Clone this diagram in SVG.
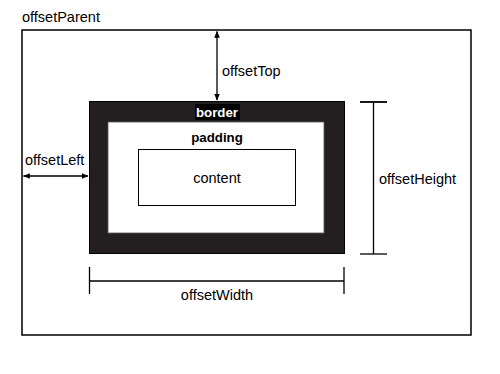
<svg xmlns="http://www.w3.org/2000/svg" width="500" height="374" viewBox="0 0 500 374">
<defs>
<style>
text{font-family:"Liberation Sans",Arial,sans-serif;font-size:14.5px;fill:#000}
.b{font-weight:bold;font-size:13.3px}
.ln{stroke:#000;stroke-width:1.3;fill:none}
</style>
<marker id="ah" viewBox="0 0 10 10" refX="9" refY="5" markerWidth="7" markerHeight="7" orient="auto-start-reverse" markerUnits="userSpaceOnUse">
<path d="M0,1 L10,5 L0,9 Z" fill="#000"/>
</marker>
</defs>
<rect width="500" height="374" fill="#fff"/>
<g id="offsetParent">
<rect x="22" y="30" width="449" height="305" fill="none" stroke="#000" stroke-width="1.5"/>
<text x="22" y="22">offsetParent</text>
</g>
<g id="border">
<rect x="89.5" y="101.5" width="255" height="152" fill="#231f20" stroke="#000" stroke-width="1"/>
<rect x="195" y="104" width="45" height="16" fill="#000"/>
<text class="b" x="217" y="117" text-anchor="middle" fill="#fff" style="fill:#fff">border</text>
</g>
<g id="padding">
<rect x="108" y="122" width="216" height="111" fill="#fff" stroke="#555" stroke-width="0.8"/>
<text class="b" x="217" y="142" text-anchor="middle">padding</text>
</g>
<g id="content">
<rect x="138.5" y="149.5" width="157" height="56" fill="#fff" stroke="#000" stroke-width="1"/>
<text x="217" y="183" text-anchor="middle">content</text>
</g>
<g id="connectors">
<line class="ln" x1="217" y1="31.5" x2="217" y2="100" marker-start="url(#ah)" marker-end="url(#ah)"/>
<line class="ln" x1="23.5" y1="176" x2="88" y2="176" marker-start="url(#ah)" marker-end="url(#ah)"/>
<line class="ln" x1="373.5" y1="102" x2="373.5" y2="254"/>
<line class="ln" x1="360" y1="102" x2="387" y2="102" style="stroke-width:1.8"/>
<line class="ln" x1="360" y1="254" x2="387" y2="254"/>
<line class="ln" x1="89.5" y1="281" x2="344" y2="281"/>
<line class="ln" x1="89.5" y1="267" x2="89.5" y2="294"/>
<line class="ln" x1="344" y1="267" x2="344" y2="294"/>
</g>
<g id="labels">
<text x="222" y="76">offsetTop</text>
<text x="25" y="165">offsetLeft</text>
<text x="379" y="184">offsetHeight</text>
<text x="217" y="300" text-anchor="middle">offsetWidth</text>
</g>
</svg>
